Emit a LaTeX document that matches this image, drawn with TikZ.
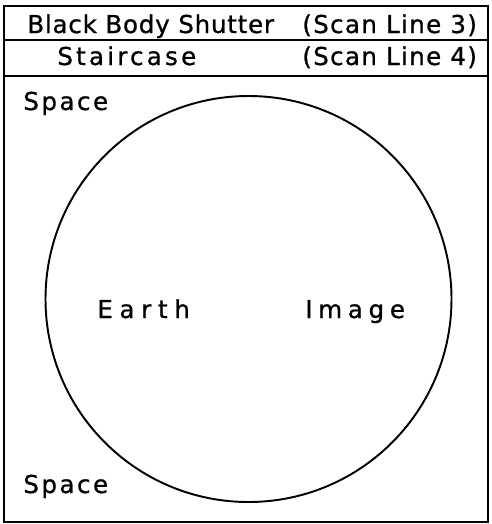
\documentclass[tikz,border=0pt]{standalone}
\usepackage{fontspec}
\setmainfont[FakeBold=0.8]{DejaVu Sans}
\usetikzlibrary{positioning}

\begin{document}
\begin{tikzpicture}[
    x=0.02cm,
    y=-0.02cm,
    frame/.style={
        draw,
        line width=1.1pt
    },
    lbl/.style={
        anchor=base west,
        inner sep=0pt,
        font=\fontsize{14}{16}\selectfont\addfontfeature{LetterSpace=#1}
    },
    lbl/.default=5
]

\useasboundingbox (0,0) rectangle (491,524);

% ---------------------------------------------------------
% Cornice e righe di intestazione
% ---------------------------------------------------------

\draw[frame] (4,6) rectangle (488,522);
\draw[frame] (4,40) -- (488,40);
\draw[frame] (4,76) -- (488,76);

\node[lbl=3]   (shutter) at (27,33)  {Black Body Shutter};
\node[lbl=5.3] (scan3)   at (302,33) {(Scan Line 3)};
\node[lbl=13]  (stair)   at (57,65)  {Staircase};
\node[lbl=5.3] (scan4)   at (302,65) {(Scan Line 4)};

% ---------------------------------------------------------
% Disco terrestre
% ---------------------------------------------------------

\draw[frame] (248.5,299) circle[radius=203];

\node[lbl=10] (spacetop) at (23,110)  {Space};
\node[lbl=10] (spacebot) at (23,493)  {Space};
\node[lbl=27] (earth)    at (97,318)  {Earth};
\node[lbl=23] (image)    at (305,318) {Image};

\end{tikzpicture}
\end{document}
